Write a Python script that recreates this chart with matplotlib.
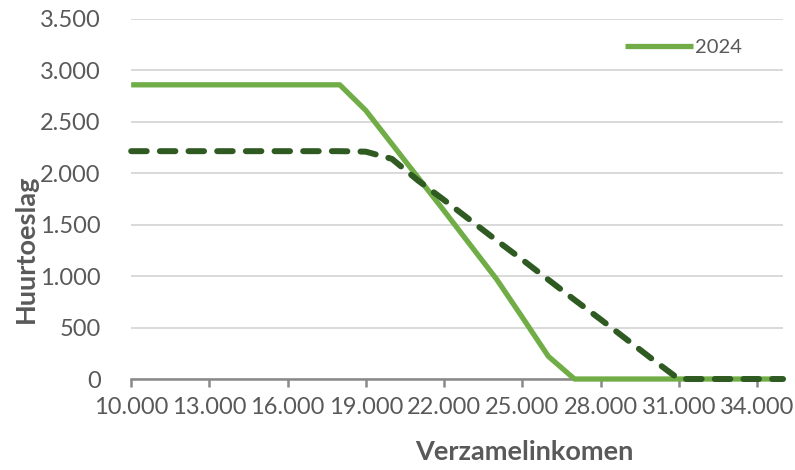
import matplotlib.pyplot as plt
from matplotlib.ticker import FuncFormatter

# verzamelinkomen (x) in stappen van 1.000
inkomen = [10000, 11000, 12000, 13000, 14000, 15000, 16000, 17000, 18000,
           19000, 20000, 21000, 22000, 23000, 24000, 25000, 26000, 27000,
           28000, 29000, 30000, 31000, 32000, 33000, 34000, 35000]

# huurtoeslag 2024 (doorgetrokken lijn)
toeslag_2024 = [2860, 2860, 2860, 2860, 2860, 2860, 2860, 2860, 2860,
                2610, 2285, 1960, 1635, 1305, 975, 600, 220, 0,
                0, 0, 0, 0, 0, 0, 0, 0]

# vergelijkingsreeks (gestippelde lijn)
toeslag_oud = [2215, 2215, 2215, 2215, 2215, 2215, 2215, 2215, 2215,
               2210, 2140, 1930, 1740, 1545, 1350, 1160, 965, 770,
               580, 385, 190, 0, 0, 0, 0, 0]

x_ticks = list(range(10000, 35000, 3000))
y_ticks = list(range(0, 3501, 500))


def punt(v, pos=None):
    return f"{int(v):,}".replace(",", ".")


plt.rcParams['font.family'] = ['Lato', 'DejaVu Sans']
grey = '#595959'

fig = plt.figure(figsize=(7.95, 4.70), dpi=100)
ax = fig.add_axes([0.165, 0.1936, 0.820, 0.766])

ax.plot(inkomen, toeslag_2024, color='#70AD47', lw=3.8, label='2024',
        solid_joinstyle='round', solid_capstyle='butt', clip_on=False, zorder=3)
ax.plot(inkomen, toeslag_oud, color='#2F5B22', lw=4.3, dashes=(2.6, 2.2),
        dash_capstyle='round', dash_joinstyle='round', clip_on=False, zorder=4)

ax.set_xlim(10000, 35000)
ax.set_ylim(0, 3500)
ax.set_xticks(x_ticks)
ax.set_yticks(y_ticks)
ax.xaxis.set_major_formatter(FuncFormatter(punt))
ax.yaxis.set_major_formatter(FuncFormatter(punt))

ax.grid(axis='y', color='#d9d9d9', lw=1.4)
ax.set_axisbelow(True)
for s in ['top', 'right', 'left']:
    ax.spines[s].set_visible(False)
ax.spines['bottom'].set_color('#898989')
ax.spines['bottom'].set_linewidth(1.8)
ax.tick_params(axis='x', colors='#898989', length=6, width=1.8, direction='out',
               labelcolor=grey, labelsize=17, pad=7)
ax.tick_params(axis='y', length=0, labelcolor=grey, labelsize=17, pad=22)

fig.text(0.66, 0.038, 'Verzamelinkomen', color=grey, fontsize=19.5,
         fontweight='bold', ha='center', va='center')
fig.text(0.032, 0.47, 'Huurtoeslag', color=grey, fontsize=19.5,
         fontweight='bold', ha='center', va='center', rotation=90)

ax.legend(loc='upper right', bbox_to_anchor=(0.965, 0.995), frameon=False,
          fontsize=14.5, labelcolor=grey, handlelength=3.4, handletextpad=0.1)

fig.savefig('out.png', dpi=100)
